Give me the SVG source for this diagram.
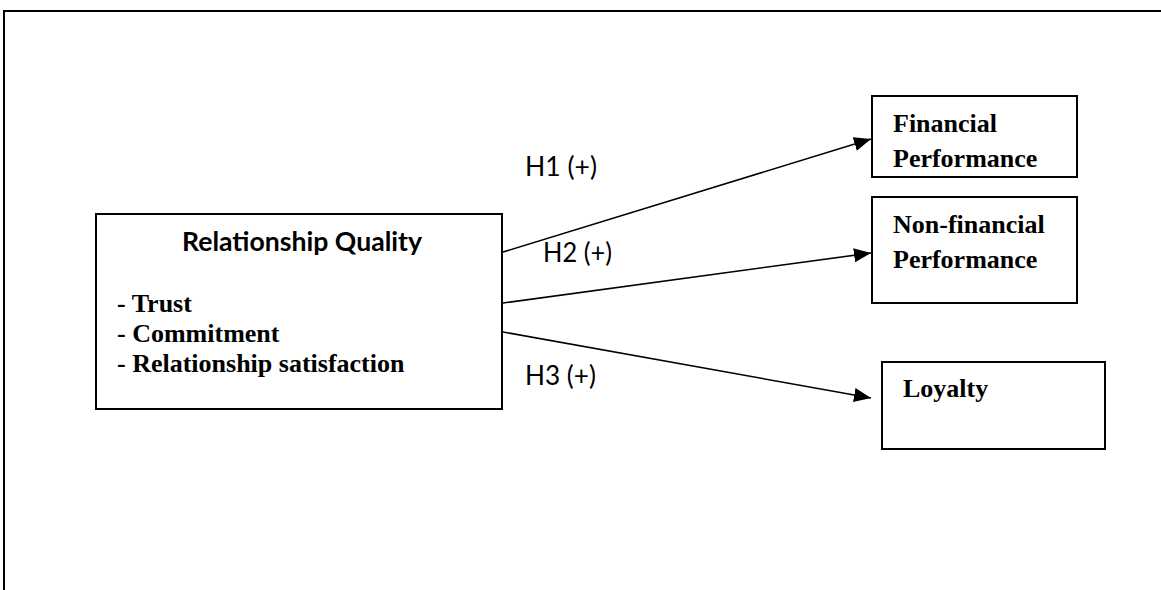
<svg xmlns="http://www.w3.org/2000/svg" width="1161" height="590" viewBox="0 0 1161 590">
<style>
.box{fill:#fff;stroke:#000;stroke-width:2}
.serif{font-family:"Liberation Serif","Times New Roman",serif;font-weight:bold;font-size:26px;fill:#000}
.sans{font-family:Lato,"Open Sans","Liberation Sans",sans-serif;fill:#000}
.conn{stroke:#000;stroke-width:1.6;fill:none}
</style>
<defs>
<marker id="arr" markerUnits="userSpaceOnUse" markerWidth="20" markerHeight="16" refX="17" refY="7" orient="auto">
<path d="M0,0 L17,7 L0,14 z" fill="#000"/>
</marker>
</defs>
<rect width="1161" height="590" fill="#fff"/>
<path d="M4,590 L4,11 L1161,11" fill="none" stroke="#000" stroke-width="2"/>
<g id="relationship-quality">
<rect class="box" x="96" y="214" width="406" height="195"/>
<text class="sans" x="302" y="251" font-size="26" font-weight="bold" text-anchor="middle" textLength="240" lengthAdjust="spacingAndGlyphs">Relationship Quality</text>
<text class="serif" x="117" y="312">- Trust</text>
<text class="serif" x="117" y="342">- Commitment</text>
<text class="serif" x="117" y="372">- Relationship satisfaction</text>
</g>
<g id="financial-performance">
<rect class="box" x="872" y="96" width="205" height="81"/>
<text class="serif" x="893" y="132">Financial</text>
<text class="serif" x="893" y="167">Performance</text>
</g>
<g id="non-financial-performance">
<rect class="box" x="872" y="197" width="205" height="106"/>
<text class="serif" x="893" y="233">Non-financial</text>
<text class="serif" x="893" y="268">Performance</text>
</g>
<g id="loyalty">
<rect class="box" x="882" y="362" width="223" height="87"/>
<text class="serif" x="903" y="397">Loyalty</text>
</g>
<g id="connectors">
<line class="conn" x1="503" y1="252" x2="871" y2="139" marker-end="url(#arr)"/>
<line class="conn" x1="503" y1="303" x2="871" y2="253" marker-end="url(#arr)"/>
<line class="conn" x1="503" y1="332" x2="871" y2="398" marker-end="url(#arr)"/>
<text class="sans" x="525" y="176" font-size="26" textLength="72" lengthAdjust="spacingAndGlyphs">H1 (+)</text>
<text class="sans" x="543" y="262" font-size="26" textLength="69" lengthAdjust="spacingAndGlyphs">H2 (+)</text>
<text class="sans" x="525" y="385" font-size="26" textLength="71" lengthAdjust="spacingAndGlyphs">H3 (+)</text>
</g>
</svg>
